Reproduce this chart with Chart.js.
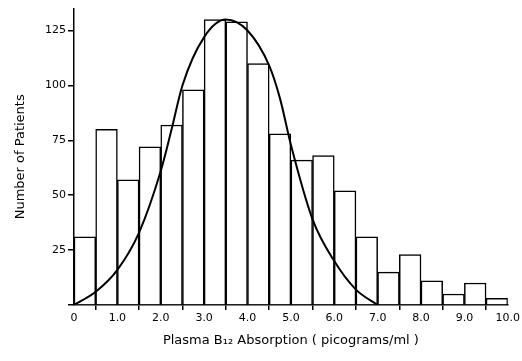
<!DOCTYPE html>
<html>
<head>
<meta charset="utf-8">
<script src="https://cdn.jsdelivr.net/npm/chart.js@4"></script>
<style>
  html, body { margin: 0; padding: 0; background: #fff; }
</style>
</head>
<body>
<canvas id="histchart" width="522" height="361"></canvas>
<script>
// histogram of plasma B12 absorption, bins of 0.5 pg/ml
const binCenters = [0.25, 0.75, 1.25, 1.75, 2.25, 2.75, 3.25, 3.75, 4.25, 4.75,
    5.25, 5.75, 6.25, 6.75, 7.25, 7.75, 8.25, 8.75, 9.25, 9.75];
const patients = [31, 80, 57, 72, 82, 98, 130, 129, 110, 78,
    66, 68, 52, 31, 15, 23, 11, 5, 10, 3];

// fitted normal curve
const curveX = [0, 0.5, 1.0, 1.5, 2.0, 2.25, 2.5, 3.0, 3.5, 4.0, 4.5, 4.75, 5.0, 5.5, 6.0, 6.5, 7.0];
const curveY = [0, 6, 16, 33, 61, 80, 100, 122, 130, 125, 109, 94, 73, 39, 20, 7, 0];

const xTicks = [0, 1, 2, 3, 4, 5, 6, 7, 8, 9, 10];
const yTicks = [0, 25, 50, 75, 100, 125];

const font = "'DejaVu Sans', sans-serif";

new Chart("histchart", {
    type: "bar",
    data: {
        datasets: [
            {
                type: "line",
                data: curveX.map((x, i) => ({ x: x, y: curveY[i] })),
                borderColor: "#000",
                borderWidth: 2,
                pointRadius: 0,
                tension: 0.4,
                cubicInterpolationMode: "monotone",
                fill: false,
                order: 0
            },
            {
                type: "bar",
                data: binCenters.map((x, i) => ({ x: x, y: patients[i] })),
                backgroundColor: "#fff",
                borderColor: "#000",
                borderWidth: 1.5,
                barPercentage: 1,
                categoryPercentage: 1,
                order: 1
            }
        ]
    },
    options: {
        responsive: false,
        animation: false,
        layout: { padding: { top: 8, right: 14, left: 0, bottom: 0 } },
        plugins: { legend: { display: false }, tooltip: { enabled: false } },
        scales: {
            x: {
                type: "linear",
                offset: false,
                min: 0,
                max: 10,
                afterBuildTicks: s => { s.ticks = xTicks.map(v => ({ value: v })); },
                afterFit: s => { s.height = 56; },
                ticks: {
                    color: "#000",
                    font: { family: font, size: 11 },
                    padding: 2,
                    maxRotation: 0,
                    callback: v => v === 0 ? "0" : v.toFixed(1)
                },
                grid: { display: true, drawOnChartArea: false, tickLength: 5, color: "#000", lineWidth: 1.5 },
                border: { color: "#000", width: 1.5 },
                title: {
                    display: true,
                    text: "Plasma B\u2081\u2082 Absorption ( picograms/ml )",
                    color: "#000",
                    font: { family: font, size: 13 },
                    padding: { top: 4, bottom: 13 }
                }
            },
            y: {
                min: 0,
                max: 135,
                afterBuildTicks: s => { s.ticks = yTicks.map(v => ({ value: v })); },
                afterFit: s => { s.width = 74; },
                ticks: {
                    color: "#000",
                    font: { family: font, size: 11 },
                    padding: 2,
                    callback: v => v === 0 ? "" : String(v)
                },
                grid: { display: true, drawOnChartArea: false, tickLength: 6, color: "#000", lineWidth: 1.5 },
                border: { color: "#000", width: 1.5 },
                title: {
                    display: true,
                    text: "Number of Patients",
                    color: "#000",
                    font: { family: font, size: 13 },
                    padding: { top: 13, bottom: 6 }
                }
            }
        }
    }
});
</script>
</body>
</html>
